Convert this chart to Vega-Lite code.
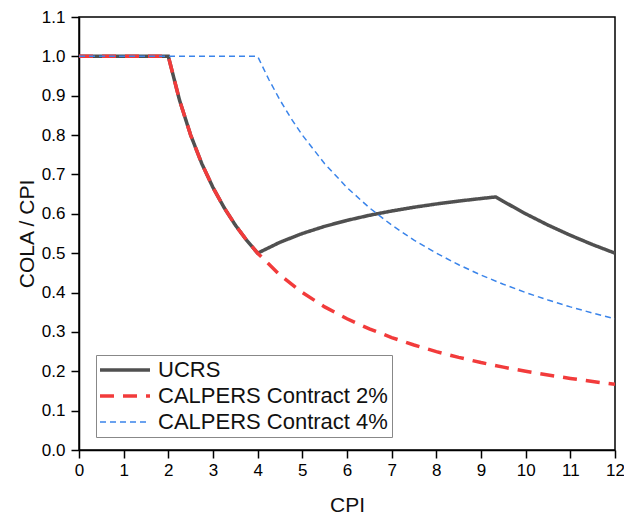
{
  "$schema": "https://vega.github.io/schema/vega-lite/v6.json",
  "width": 536,
  "height": 433,
  "autosize": "none",
  "padding": {"left": 79, "top": 17, "right": 9, "bottom": 66},
  "background": "white",
  "config": {
    "font": "Liberation Sans",
    "view": {"stroke": "black", "strokeWidth": 1.5},
    "axis": {"grid": false, "labelOverlap": false, "labelBound": false, "labelFlush": false}
  },
  "data": {"values": [
    {"cpi": 0, "v": 1, "s": "UCRS"},
    {"cpi": 2, "v": 1, "s": "UCRS"},
    {"cpi": 2.25, "v": 0.8889, "s": "UCRS"},
    {"cpi": 2.5, "v": 0.8, "s": "UCRS"},
    {"cpi": 2.75, "v": 0.7273, "s": "UCRS"},
    {"cpi": 3, "v": 0.6667, "s": "UCRS"},
    {"cpi": 3.25, "v": 0.6154, "s": "UCRS"},
    {"cpi": 3.5, "v": 0.5714, "s": "UCRS"},
    {"cpi": 3.75, "v": 0.5333, "s": "UCRS"},
    {"cpi": 4, "v": 0.5, "s": "UCRS"},
    {"cpi": 4.5, "v": 0.5278, "s": "UCRS"},
    {"cpi": 5, "v": 0.55, "s": "UCRS"},
    {"cpi": 5.5, "v": 0.5682, "s": "UCRS"},
    {"cpi": 6, "v": 0.5833, "s": "UCRS"},
    {"cpi": 6.5, "v": 0.5962, "s": "UCRS"},
    {"cpi": 7, "v": 0.6071, "s": "UCRS"},
    {"cpi": 7.5, "v": 0.6167, "s": "UCRS"},
    {"cpi": 8, "v": 0.625, "s": "UCRS"},
    {"cpi": 8.5, "v": 0.6324, "s": "UCRS"},
    {"cpi": 9, "v": 0.6389, "s": "UCRS"},
    {"cpi": 9.333, "v": 0.6429, "s": "UCRS"},
    {"cpi": 9.5, "v": 0.6316, "s": "UCRS"},
    {"cpi": 10, "v": 0.6, "s": "UCRS"},
    {"cpi": 10.5, "v": 0.5714, "s": "UCRS"},
    {"cpi": 11, "v": 0.5455, "s": "UCRS"},
    {"cpi": 11.5, "v": 0.5217, "s": "UCRS"},
    {"cpi": 12, "v": 0.5, "s": "UCRS"},
    {"cpi": 0, "v": 1, "s": "CALPERS Contract 2%"},
    {"cpi": 2, "v": 1, "s": "CALPERS Contract 2%"},
    {"cpi": 2.25, "v": 0.8889, "s": "CALPERS Contract 2%"},
    {"cpi": 2.5, "v": 0.8, "s": "CALPERS Contract 2%"},
    {"cpi": 2.75, "v": 0.7273, "s": "CALPERS Contract 2%"},
    {"cpi": 3, "v": 0.6667, "s": "CALPERS Contract 2%"},
    {"cpi": 3.25, "v": 0.6154, "s": "CALPERS Contract 2%"},
    {"cpi": 3.5, "v": 0.5714, "s": "CALPERS Contract 2%"},
    {"cpi": 3.75, "v": 0.5333, "s": "CALPERS Contract 2%"},
    {"cpi": 4, "v": 0.5, "s": "CALPERS Contract 2%"},
    {"cpi": 4.5, "v": 0.4444, "s": "CALPERS Contract 2%"},
    {"cpi": 5, "v": 0.4, "s": "CALPERS Contract 2%"},
    {"cpi": 5.5, "v": 0.3636, "s": "CALPERS Contract 2%"},
    {"cpi": 6, "v": 0.3333, "s": "CALPERS Contract 2%"},
    {"cpi": 6.5, "v": 0.3077, "s": "CALPERS Contract 2%"},
    {"cpi": 7, "v": 0.2857, "s": "CALPERS Contract 2%"},
    {"cpi": 7.5, "v": 0.2667, "s": "CALPERS Contract 2%"},
    {"cpi": 8, "v": 0.25, "s": "CALPERS Contract 2%"},
    {"cpi": 8.5, "v": 0.2353, "s": "CALPERS Contract 2%"},
    {"cpi": 9, "v": 0.2222, "s": "CALPERS Contract 2%"},
    {"cpi": 9.5, "v": 0.2105, "s": "CALPERS Contract 2%"},
    {"cpi": 10, "v": 0.2, "s": "CALPERS Contract 2%"},
    {"cpi": 10.5, "v": 0.1905, "s": "CALPERS Contract 2%"},
    {"cpi": 11, "v": 0.1818, "s": "CALPERS Contract 2%"},
    {"cpi": 11.5, "v": 0.1739, "s": "CALPERS Contract 2%"},
    {"cpi": 12, "v": 0.1667, "s": "CALPERS Contract 2%"},
    {"cpi": 0, "v": 1, "s": "CALPERS Contract 4%"},
    {"cpi": 4, "v": 1, "s": "CALPERS Contract 4%"},
    {"cpi": 4.25, "v": 0.9412, "s": "CALPERS Contract 4%"},
    {"cpi": 4.5, "v": 0.8889, "s": "CALPERS Contract 4%"},
    {"cpi": 4.75, "v": 0.8421, "s": "CALPERS Contract 4%"},
    {"cpi": 5, "v": 0.8, "s": "CALPERS Contract 4%"},
    {"cpi": 5.5, "v": 0.7273, "s": "CALPERS Contract 4%"},
    {"cpi": 6, "v": 0.6667, "s": "CALPERS Contract 4%"},
    {"cpi": 6.5, "v": 0.6154, "s": "CALPERS Contract 4%"},
    {"cpi": 7, "v": 0.5714, "s": "CALPERS Contract 4%"},
    {"cpi": 7.5, "v": 0.5333, "s": "CALPERS Contract 4%"},
    {"cpi": 8, "v": 0.5, "s": "CALPERS Contract 4%"},
    {"cpi": 8.5, "v": 0.4706, "s": "CALPERS Contract 4%"},
    {"cpi": 9, "v": 0.4444, "s": "CALPERS Contract 4%"},
    {"cpi": 9.5, "v": 0.4211, "s": "CALPERS Contract 4%"},
    {"cpi": 10, "v": 0.4, "s": "CALPERS Contract 4%"},
    {"cpi": 10.5, "v": 0.381, "s": "CALPERS Contract 4%"},
    {"cpi": 11, "v": 0.3636, "s": "CALPERS Contract 4%"},
    {"cpi": 11.5, "v": 0.3478, "s": "CALPERS Contract 4%"},
    {"cpi": 12, "v": 0.3333, "s": "CALPERS Contract 4%"}
  ]},
  "mark": {"type": "line", "clip": true},
  "encoding": {
    "x": {"field": "cpi", "type": "quantitative", "scale": {"domain": [0, 12], "nice": false, "zero": false},
      "axis": {"title": "CPI", "titlePadding": 16, "values": [0,1,2,3,4,5,6,7,8,9,10,11,12], "format": "d", "grid": false,
        "domainColor": "black", "domainWidth": 1.5, "tickColor": "black", "tickWidth": 1.5, "tickSize": 8, "labelPadding": 4,
        "labelColor": "black", "labelFont": "Liberation Sans", "labelFontSize": 17, "titleFont": "Liberation Sans", "titleFontSize": 21, "titleFontWeight": "normal", "titleColor": "#111"}},
    "y": {"field": "v", "type": "quantitative", "scale": {"domain": [0, 1.1], "nice": false},
      "axis": {"title": "COLA / CPI", "titlePadding": 4, "values": [0,0.1,0.2,0.3,0.4,0.5,0.6,0.7,0.8,0.9,1,1.1], "format": ".1f", "grid": false,
        "domainColor": "black", "domainWidth": 1.5, "tickColor": "black", "tickWidth": 1.5, "tickSize": 8, "labelPadding": 6,
        "labelColor": "black", "labelFont": "Liberation Sans", "labelFontSize": 17, "titleFont": "Liberation Sans", "titleFontSize": 21, "titleFontWeight": "normal", "titleColor": "#111"}},
    "color": {"field": "s", "type": "nominal",
      "scale": {"domain": ["UCRS", "CALPERS Contract 2%", "CALPERS Contract 4%"], "range": ["#505050", "#f23b3b", "#3a84ea"]},
      "legend": {"title": null, "orient": "none", "legendX": 17, "legendY": 338, "fillColor": "white", "strokeColor": "#888", "padding": 4, "rowPadding": 4,
        "labelFontSize": 22, "labelFont": "Liberation Sans", "labelColor": "#111", "labelLimit": 400, "labelOffset": 22, "symbolOffset": 14, "symbolType": "M-5,0H5", "symbolSize": 100}},
    "strokeDash": {"field": "s", "type": "nominal",
      "scale": {"domain": ["UCRS", "CALPERS Contract 2%", "CALPERS Contract 4%"], "range": [[1, 0], [14, 9], [6, 4]]},
      "legend": {"title": null}},
    "strokeWidth": {"field": "s", "type": "nominal",
      "scale": {"type": "ordinal", "domain": ["UCRS", "CALPERS Contract 2%", "CALPERS Contract 4%"], "range": [3.5, 3.5, 1.5]},
      "legend": {"title": null}}
  }
}
